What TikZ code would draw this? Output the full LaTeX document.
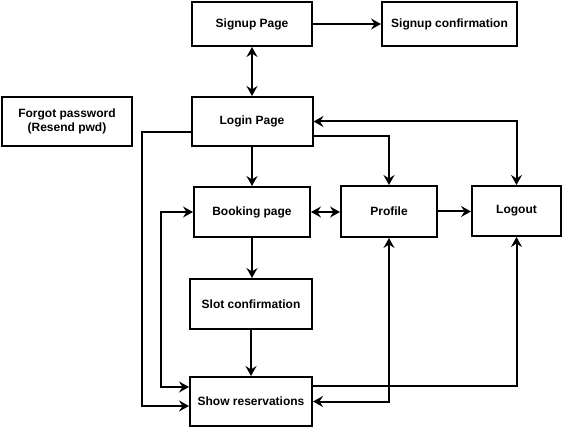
\documentclass[tikz,border=0pt]{standalone}
\usepackage{fontspec}
\setmainfont{Liberation Sans}
\usetikzlibrary{arrows.meta,calc}
\tikzset{
  box/.style={draw=black, line width=2pt, rectangle, align=center, inner sep=0pt,
    font=\fontsize{12}{14}\selectfont\bfseries, text=black},
  conn/.style={line width=2pt, draw=black},
  >={Stealth[length=10pt,width=11pt,inset=3.5pt]}
}
\begin{document}
\begin{tikzpicture}[x=1pt,y=-1pt]
\useasboundingbox (0,0) rectangle (562,427);
\node[box, minimum width=120pt, minimum height=44pt] (signup) at (252,24) {Signup Page};
\node[box, minimum width=135pt, minimum height=44pt] (sconf) at (449.5,24) {Signup confirmation};
\node[box, minimum width=130pt, minimum height=49pt] (forgot) at (67,121.5) {Forgot password\\(Resend pwd)};
\node[box, minimum width=121pt, minimum height=49pt] (login) at (252,121.5) {Login Page};
\node[box, minimum width=116pt, minimum height=50pt] (booking) at (252,212) {Booking page};
\node[box, minimum width=96pt, minimum height=51pt] (profile) at (389,211.5) {Profile};
\node[box, minimum width=89pt, minimum height=50pt] (logout) at (516.5,211) {Logout};
\node[box, minimum width=122pt, minimum height=50pt] (slot) at (251,304) {Slot confirmation};
\node[box, minimum width=122pt, minimum height=49pt] (show) at (251,401.5) {Show reservations};

\draw[conn,->] (signup.east) -- (sconf.west);
\draw[conn,<->] (signup.south) -- (login.north);
\draw[conn,->] (login.south) -- (booking.north);
\draw[conn,->] ([yshift=-14.5pt]login.east) -| (profile.north);
\draw[conn,<->] (login.east) -| (logout.north);
\draw[conn,<->] (booking.east) -- (booking.east -| profile.west);
\draw[conn,->] (profile.east) -- (profile.east -| logout.west);
\draw[conn,->] (booking.south) -- (booking.south |- slot.north);
\draw[conn,->] (slot.south) -- (show.north);
\draw[conn,->] ([yshift=-10.5pt]login.west) -- ++(-49,0) |- ([yshift=-4.5pt]show.west);
\draw[conn,<->] (booking.west) -- ++(-32,0) |- ([yshift=14.5pt]show.west);
\draw[conn,->] ([yshift=15.5pt]show.east) -| (logout.south);
\draw[conn,<->] (profile.south) |- (show.east);
\end{tikzpicture}
\end{document}
